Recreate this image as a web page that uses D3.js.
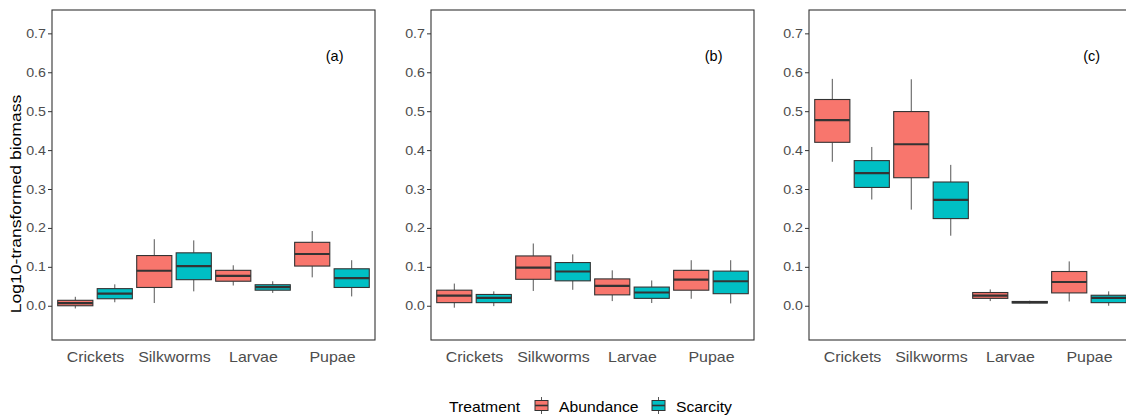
<!DOCTYPE html>
<html>
<head>
<meta charset="utf-8">
<script src="https://cdn.jsdelivr.net/npm/d3@7"></script>
<style>
  html, body { margin: 0; padding: 0; background: #fff; }
  svg { display: block; font-family: "Liberation Sans", Arial, sans-serif; }
</style>
</head>
<body>
<svg id="chart" width="1126" height="417"></svg>
<script>
// ---------------- DATA ----------------
const categories = ["Crickets", "Silkworms", "Larvae", "Pupae"];
const treatments = ["Abundance", "Scarcity"];
const panelTags = ["(a)", "(b)", "(c)"];
const yTickValues = [0.0, 0.1, 0.2, 0.3, 0.4, 0.5, 0.6, 0.7];
const yTitle = "Log10-transformed biomass";
const legendTitle = "Treatment";

// each entry: [lower whisker, Q1, median, Q3, upper whisker] per category
const panelA_abundance = [
  [-0.007, 0.000, 0.007, 0.014, 0.023],
  [0.007, 0.047, 0.090, 0.129, 0.171],
  [0.052, 0.063, 0.077, 0.091, 0.104],
  [0.073, 0.102, 0.133, 0.163, 0.192]
];
const panelA_scarcity = [
  [0.009, 0.018, 0.031, 0.044, 0.055],
  [0.037, 0.067, 0.102, 0.136, 0.168],
  [0.033, 0.040, 0.048, 0.054, 0.063],
  [0.024, 0.047, 0.071, 0.095, 0.117]
];
const panelB_abundance = [
  [-0.005, 0.008, 0.026, 0.040, 0.057],
  [0.038, 0.068, 0.098, 0.128, 0.160],
  [0.012, 0.028, 0.051, 0.069, 0.091],
  [0.018, 0.040, 0.067, 0.091, 0.117]
];
const panelB_scarcity = [
  [-0.001, 0.008, 0.020, 0.029, 0.037],
  [0.041, 0.064, 0.088, 0.111, 0.132],
  [0.007, 0.019, 0.034, 0.048, 0.065],
  [0.006, 0.031, 0.063, 0.089, 0.117]
];
const panelC_abundance = [
  [0.370, 0.420, 0.477, 0.530, 0.583],
  [0.247, 0.329, 0.415, 0.499, 0.582],
  [0.012, 0.019, 0.026, 0.034, 0.042],
  [0.011, 0.033, 0.061, 0.088, 0.114]
];
const panelC_scarcity = [
  [0.273, 0.304, 0.341, 0.373, 0.408],
  [0.180, 0.224, 0.272, 0.318, 0.362],
  [0.006, 0.007, 0.009, 0.011, 0.013],
  [0.000, 0.008, 0.020, 0.027, 0.037]
];

const panelData = [
  { Abundance: panelA_abundance, Scarcity: panelA_scarcity },
  { Abundance: panelB_abundance, Scarcity: panelB_scarcity },
  { Abundance: panelC_abundance, Scarcity: panelC_scarcity }
];

// ---------------- LAYOUT ----------------
const svg = d3.select("#chart");
const panelLefts = [52, 431, 809];
const panelW = 323;
const plotTop = 10, plotBottom = 340;
const colors = d3.scaleOrdinal().domain(treatments).range(["#F8766D", "#00BFC4"]);
const outline = "#333333";
const tickColor = "#4D4D4D";
const FONT = '"Liberation Sans", Arial, sans-serif';
const stretch = 1.14; // reference glyphs are wider than Liberation Sans

const y = d3.scaleLinear().domain([-0.088, 0.76]).range([plotBottom, plotTop]);

panelData.forEach((pd, pi) => {
  const left = panelLefts[pi];
  const x = d3.scalePoint().domain(categories).range([left, left + panelW]).padding(0.545);
  const step = x.step();
  const inner = d3.scaleBand().domain(treatments)
    .range([-step / 2, step / 2]).paddingInner(0.11).paddingOuter(0.055);

  const g = svg.append("g");

  treatments.forEach(t => {
    pd[t].forEach((s, ci) => {
      const cx = x(categories[ci]) + inner(t);
      const bw = inner.bandwidth();
      const mid = cx + bw / 2;
      const [lo, q1, med, q3, hi] = s;
      g.append("line").attr("x1", mid).attr("x2", mid)
        .attr("y1", y(q3)).attr("y2", y(hi))
        .attr("stroke", "#555").attr("stroke-width", 1);
      g.append("line").attr("x1", mid).attr("x2", mid)
        .attr("y1", y(q1)).attr("y2", y(lo))
        .attr("stroke", "#555").attr("stroke-width", 1);
      g.append("rect").attr("x", cx).attr("width", bw)
        .attr("y", y(q3)).attr("height", Math.max(0.5, y(q1) - y(q3)))
        .attr("fill", colors(t)).attr("stroke", outline).attr("stroke-width", 1.1);
      g.append("line").attr("x1", cx).attr("x2", cx + bw)
        .attr("y1", y(med)).attr("y2", y(med))
        .attr("stroke", outline).attr("stroke-width", 2.2);
    });
  });

  // panel border
  g.append("rect").attr("x", left).attr("y", plotTop)
    .attr("width", panelW).attr("height", plotBottom - plotTop)
    .attr("fill", "none").attr("stroke", outline).attr("stroke-width", 1.1);

  // y axis
  const ya = d3.axisLeft(y).tickValues(yTickValues).tickFormat(d3.format(".1f")).tickSize(4).tickPadding(2);
  const yg = g.append("g").attr("transform", `translate(${left},0)`).call(ya);
  yg.select(".domain").remove();
  yg.selectAll(".tick line").attr("stroke", outline);
  yg.selectAll(".tick text").attr("fill", tickColor)
    .style("font-size", "12.5px").style("font-family", FONT)
    .attr("x", -6 / stretch).attr("transform", `scale(${stretch},1)`);

  // x axis
  const xa = d3.axisBottom(x).tickSize(0).tickPadding(12);
  const xg = g.append("g").attr("transform", `translate(0,${plotBottom})`).call(xa);
  xg.select(".domain").remove();
  xg.selectAll(".tick text").attr("fill", tickColor)
    .style("font-size", "14px").style("font-family", FONT)
    .attr("transform", `scale(${stretch},1)`);

  // panel tag
  g.append("text").attr("x", x("Pupae") + 2.7).attr("y", y(0.641))
    .attr("text-anchor", "middle").attr("dominant-baseline", "central")
    .style("font-size", "14.5px").attr("fill", "#000").text(panelTags[pi]);
});

// y title
svg.append("text")
  .attr("transform", `translate(21,204) rotate(-90) scale(1.17,1)`)
  .attr("text-anchor", "middle")
  .style("font-size", "15px").attr("fill", "#000")
  .text(yTitle);

// legend
const lg = svg.append("g");
lg.append("text").attr("transform", `translate(449,411.5) scale(${stretch},1)`)
  .style("font-size", "13.8px").attr("fill", "#000").text(legendTitle);
const keyX = d3.scaleOrdinal().domain(treatments).range([533, 650]);
treatments.forEach(t => {
  const kx = keyX(t);
  const kg = lg.append("g").attr("transform", `translate(${kx},397)`);
  kg.append("line").attr("x1", 8.5).attr("x2", 8.5).attr("y1", 0).attr("y2", 17).attr("stroke", "#555");
  kg.append("rect").attr("x", 2).attr("y", 3.5).attr("width", 13).attr("height", 10)
    .attr("fill", colors(t)).attr("stroke", outline).attr("stroke-width", 1);
  kg.append("line").attr("x1", 2).attr("x2", 15).attr("y1", 8.5).attr("y2", 8.5).attr("stroke", outline).attr("stroke-width", 1.6);
  lg.append("text").attr("transform", `translate(${kx + 26},411.5) scale(${stretch},1)`)
    .style("font-size", "13.8px").attr("fill", "#000").text(t);
});
</script>
</body>
</html>
